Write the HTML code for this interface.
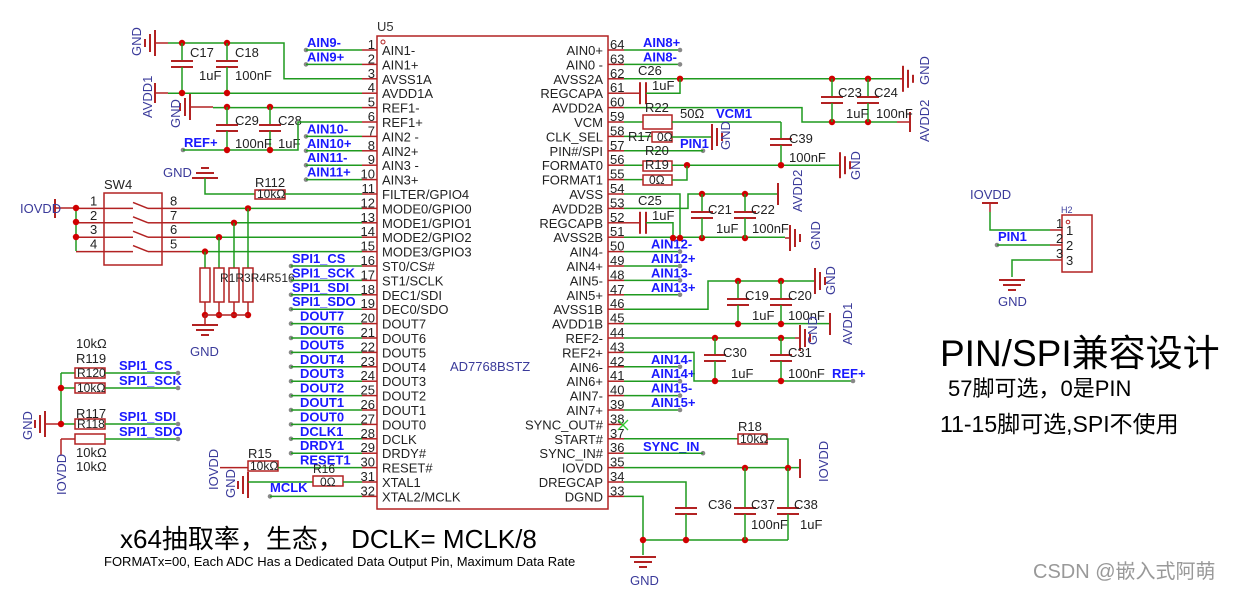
<!DOCTYPE html>
<html><head><meta charset="utf-8">
<style>
html,body{margin:0;padding:0;background:#fff;width:1250px;height:591px;overflow:hidden}
svg{display:block}
text{font-family:"Liberation Sans","Noto Sans CJK SC",sans-serif}
</style></head><body>
<svg id="s" width="1250" height="591" viewBox="0 0 1250 591" xmlns="http://www.w3.org/2000/svg">
<g id="g"></g>
<text x="940" y="366" font-size="37" fill="#000">PIN/SPI兼容设计</text>
<text x="948" y="396" font-size="22" fill="#000">57脚可选，0是PIN</text>
<text x="940" y="432" font-size="23" fill="#000">11-15脚可选,SPI不使用</text>
<text x="120" y="548" font-size="26" fill="#000">x64抽取率，生态，  DCLK= MCLK/8</text>
<text x="104" y="566" font-size="13" fill="#000">FORMATx=00, Each ADC Has a Dedicated Data Output Pin, Maximum Data Rate</text>
<text x="1033" y="578" font-size="20" fill="#999">CSDN @嵌入式阿萌</text>
</svg>
<script>
var G=document.getElementById('g'),NS='http://www.w3.org/2000/svg';
var GR='#1f9a1f',RD='#b22222',BL='#1a1aff',DB='#3a3a9a';
function el(t,a,txt){var e=document.createElementNS(NS,t);for(var k in a)e.setAttribute(k,a[k]);if(txt!=null)e.textContent=txt;G.appendChild(e);return e;}
function L(x1,y1,x2,y2,c,w){el('line',{x1:x1,y1:y1,x2:x2,y2:y2,stroke:c||GR,'stroke-width':w||1.5});}
function P(pts,c){el('polyline',{points:pts,fill:'none',stroke:c||GR,'stroke-width':1.5});}
function T(x,y,s,o){o=o||{};var a={x:x,y:y,'font-size':o.fs||13,fill:o.c||'#222'};if(o.a)a['text-anchor']=o.a;if(o.r)a.transform='rotate(-90 '+x+' '+y+')';if(o.b)a['font-weight']='bold';el('text',a,s);}
function D(x,y){el('circle',{cx:x,cy:y,r:3.2,fill:'#d00000'});}
function GD(x,y){el('circle',{cx:x,cy:y,r:2.3,fill:'#888'});}
function R(x,y,w,h){el('rect',{x:x,y:y,width:w,height:h,fill:'none',stroke:RD,'stroke-width':1.5});}
function CapV(x,y){L(x-11,y,x+11,y,RD,2);L(x-11,y+6,x+11,y+6,RD,2);}
function CapH(x,y){L(x,y-11,x,y+11,RD,2);L(x+6,y-11,x+6,y+11,RD,2);}
function GndL(x,y){L(x,y-13,x,y+13,RD,2);L(x-5,y-9,x-5,y+9,RD,2);L(x-10,y-4,x-10,y+4,RD,2);}
function GndR(x,y){L(x,y-13,x,y+13,RD,2);L(x+5,y-9,x+5,y+9,RD,2);L(x+10,y-4,x+10,y+4,RD,2);}
function GndD(x,y){L(x-13,y,x+13,y,RD,2);L(x-9,y+5,x+9,y+5,RD,2);L(x-4,y+10,x+4,y+10,RD,2);}
function GndU(x,y){L(x-13,y,x+13,y,RD,2);L(x-9,y-5,x+9,y-5,RD,2);L(x-4,y-10,x+4,y-10,RD,2);}
function yl(n){return 50+(n-1)*14.4;} function yr(n){return 50+(64-n)*14.4;}

el('rect',{x:377,y:36,width:231,height:473,fill:'none',stroke:RD,'stroke-width':1.5});
T(377,31,'U5',{c:'#333',fs:13});
el('circle',{cx:383,cy:42,r:2,fill:'none',stroke:RD});
var ln=['AIN1-','AIN1+','AVSS1A','AVDD1A','REF1-','REF1+','AIN2 -','AIN2+','AIN3 -','AIN3+','FILTER/GPIO4','MODE0/GPIO0','MODE1/GPIO1','MODE2/GPIO2','MODE3/GPIO3','ST0/CS#','ST1/SCLK','DEC1/SDI','DEC0/SDO','DOUT7','DOUT6','DOUT5','DOUT4','DOUT3','DOUT2','DOUT1','DOUT0','DCLK','DRDY#','RESET#','XTAL1','XTAL2/MCLK'];
for(var i=0;i<32;i++){var y=yl(i+1);T(382,y+5,ln[i]);T(375,y-1,''+(i+1),{a:'end'});L(362,y,377,y,RD,1.5);}
var rn=['AIN0+','AIN0 -','AVSS2A','REGCAPA','AVDD2A','VCM','CLK_SEL','PIN#/SPI','FORMAT0','FORMAT1','AVSS','AVDD2B','REGCAPB','AVSS2B','AIN4-','AIN4+','AIN5-','AIN5+','AVSS1B','AVDD1B','REF2-','REF2+','AIN6-','AIN6+','AIN7-','AIN7+','SYNC_OUT#','START#','SYNC_IN#','IOVDD','DREGCAP','DGND'];
for(var i=0;i<32;i++){var n=64-i,y=yr(n);T(603,y+5,rn[i],{a:'end'});T(610,y-1,''+n);L(608,y,624,y,RD,1.5);}
T(450,371,'AD7768BSTZ',{c:DB});

GndL(155,43);L(155,43,168,43,RD);P('168,43 284,43 284,'+yl(3)+' 362,'+yl(3));D(182,43);D(227,43);
T(141,56,'GND',{r:1,c:DB});
L(182,43,182,61,GR);CapV(182,61);L(182,67,182,93,GR);
L(227,43,227,61,GR);CapV(227,61);L(227,67,227,93,GR);
T(190,57,'C17');T(235,57,'C18');T(199,80,'1uF');T(235,80,'100nF');
L(155,83,155,103,RD,2);L(155,93,168,93,RD);L(168,yl(4),362,yl(4));D(182,93);D(227,93);
T(152,118,'AVDD1',{r:1,c:DB});
GndL(190,107);L(190,107,213,107,RD);L(213,yl(5),362,yl(5));D(227,107);D(270,107);
T(180,128,'GND',{r:1,c:DB});
L(227,107,227,125,GR);CapV(227,125);L(227,131,227,150,GR);
L(270,107,270,125,GR);CapV(270,125);L(270,131,270,150,GR);
T(235,125,'C29');T(278,125,'C28');T(235,148,'100nF');T(278,148,'1uF');
GD(183,150);P('183,150 298,150 298,'+yl(6)+' 362,'+yl(6));D(227,150);D(270,150);
T(184,147,'REF+',{c:BL,b:1});
var la=[[1,'AIN9-'],[2,'AIN9+'],[7,'AIN10-'],[8,'AIN10+'],[9,'AIN11-'],[10,'AIN11+']];
la.forEach(function(a){var y=yl(a[0]);GD(306,y);L(306,y,362,y);T(307,y-3,a[1],{c:BL,b:1});});
GndU(205,178);T(163,177,'GND',{c:DB});P('205,178 205,'+yl(11)+' 255,'+yl(11));R(255,190,30,9);L(285,yl(11),362,yl(11));T(255,187,'R112');T(257,198,'10kΩ',{fs:12});
R(104,193,58,72);T(104,189,'SW4');
L(55,199,55,218,RD,2);L(55,208,76,208,RD);T(20,213,'IOVDD',{c:DB});
var sy=[yl(12),yl(13),yl(14),yl(15)];
[1,2,3,4].forEach(function(k,i){var y=sy[i];L(76,y,104,y,RD);T(90,y-3,''+k);L(104,y,133,y,RD);L(133,y-6,148,y,RD);L(148,y,162,y,RD);L(162,y,190,y,RD);T(170,y-3,''+(9-k));L(190,y,362,y);});
L(76,208,76,251,GR);D(76,208);D(76,222);D(76,237);
var rx=[248,234,219,205];
rx.forEach(function(x,i){D(x,sy[i]);L(x,sy[i],x,268);R(x-5,268,10,34);L(x,302,x,315,RD);D(x,315);});
L(205,315,248,315,RD);L(205,315,205,325,RD);GndD(205,325);T(190,356,'GND',{c:DB});
T(220,282,'R1R3R4R516',{fs:12});
var sp=[[16,'SPI1_CS'],[17,'SPI1_SCK'],[18,'SPI1_SDI'],[19,'SPI1_SDO'],[20,'DOUT7'],[21,'DOUT6'],[22,'DOUT5'],[23,'DOUT4'],[24,'DOUT3'],[25,'DOUT2'],[26,'DOUT1'],[27,'DOUT0'],[28,'DCLK1'],[29,'DRDY1'],[30,'RESET1']];
sp.forEach(function(a){var y=yl(a[0]);if(a[0]<30){GD(291,y);L(291,y,362,y);}T(a[0]<20?292:300,y-3,a[1],{c:BL,b:1});});
L(220,yl(30),248,yl(30),RD);R(248,461,30,10);L(278,yl(30),362,yl(30));T(248,458,'R15');T(250,470,'10kΩ',{fs:12});
T(218,490,'IOVDD',{r:1,c:DB});T(235,498,'GND',{r:1,c:DB});
GndL(248,485);L(248,yl(31),313,yl(31));R(313,476,30,10);L(343,yl(31),362,yl(31));T(313,473,'R16',{fs:12});T(320,486,'0Ω',{fs:12});
GD(270,yl(32));L(270,yl(32),362,yl(32));T(270,492,'MCLK',{c:BL,b:1});
T(76,348,'10kΩ');T(76,363,'R119');T(76,418,'R117');T(76,457,'10kΩ');T(76,471,'10kΩ');
GndL(45,424);L(45,424,61,424,RD);L(61,373,61,424);L(61,373,75,373);L(61,388,75,388);L(61,424,75,424);D(61,388);D(61,424);
T(32,440,'GND',{r:1,c:DB});
R(75,368,30,10);R(75,383,30,10);R(75,419,30,10);R(75,434,30,10);
T(77,377,'R120',{fs:12});T(77,392,'10kΩ',{fs:12});T(77,428,'R118',{fs:12});
L(61,439,75,439,RD);L(61,439,61,455,RD);T(66,495,'IOVDD',{r:1,c:DB});
[[373,'SPI1_CS'],[388,'SPI1_SCK'],[424,'SPI1_SDI'],[439,'SPI1_SDO']].forEach(function(a){L(105,a[0],178,a[0]);GD(178,a[0]);T(119,a[0]-3,a[1],{c:BL,b:1});});

[[64,'AIN8+'],[63,'AIN8-'],[50,'AIN12-'],[49,'AIN12+'],[48,'AIN13-'],[47,'AIN13+'],[42,'AIN14-'],[41,'AIN14+'],[40,'AIN15-'],[39,'AIN15+']].forEach(function(a){var y=yr(a[0]);L(624,y,680,y);GD(680,y);T(a[0]>60?643:651,y-3,a[1],{c:BL,b:1});});
var y62=yr(62);L(624,y62,900,y62);D(680,y62);D(832,y62);D(868,y62);L(900,y62,903,y62,RD);GndR(903,y62);T(929,85,'GND',{r:1,c:DB});
T(638,75,'C26');CapH(640,yr(61));L(624,yr(61),640,yr(61),RD);P('646,'+yr(61)+' 680,'+yr(61)+' 680,'+y62);T(652,90,'1uF');
P('624,'+yr(60)+' 802,'+yr(60)+' 802,'+yr(59)+' 897,'+yr(59));L(897,yr(59),910,yr(59),RD);L(910,112,910,132,RD,2);T(929,142,'AVDD2',{r:1,c:DB});
D(832,yr(59));D(868,yr(59));
L(832,y62,832,97,GR);CapV(832,97);L(832,103,832,122,GR);L(868,y62,868,97,GR);CapV(868,97);L(868,103,868,122,GR);
T(838,97,'C23');T(874,97,'C24');T(846,118,'1uF');T(876,118,'100nF');
L(624,yr(59),643,yr(59));R(643,115,29,14);L(672,yr(59),781,yr(59));T(645,112,'R22');T(680,118,'50Ω');T(716,118,'VCM1',{c:BL,b:1});
L(781,122,781,139);CapV(781,139);L(781,145,781,166);T(789,143,'C39');T(789,162,'100nF');
L(624,yr(58),652,yr(58));R(652,132,20,10);L(672,137,712,137);GndR(712,137);T(730,150,'GND',{r:1,c:DB});T(628,141,'R17',{fs:13});T(657,141,'0Ω',{fs:12});
GD(703,yr(57));L(624,yr(57),703,yr(57));T(680,148,'PIN1',{c:BL,b:1});
T(645,155,'R20');
L(624,yr(56),643,yr(56));R(643,161,29,10);L(672,yr(56),840,yr(56));D(687,yr(56));D(781,yr(56));GndR(840,yr(56));T(860,180,'GND',{r:1,c:DB});T(645,169,'R19',{fs:13});
L(624,yr(55),643,yr(55));R(643,175,29,10);P('672,180 687,180 687,166');T(649,184,'0Ω',{fs:12});
P('624,'+yr(54)+' 680,'+yr(54)+' 680,'+yr(51));
P('624,'+yr(53)+' 688,'+yr(53)+' 688,'+yr(54)+' 778,'+yr(54));L(778,183,778,205,RD,2);T(802,212,'AVDD2',{r:1,c:DB});
D(702,194);D(745,194);
L(624,yr(52),640,yr(52),RD);CapH(640,yr(52));P('646,'+yr(52)+' 673,'+yr(52)+' 673,'+yr(51));T(638,205,'C25');T(652,220,'1uF');
L(624,yr(51),785,yr(51));D(673,238);D(680,238);D(702,238);D(745,238);GndR(790,238);L(785,238,790,238,RD);T(820,250,'GND',{r:1,c:DB});
L(702,194,702,212);CapV(702,212);L(702,218,702,238);L(745,194,745,212);CapV(745,212);L(745,218,745,238);
T(708,214,'C21');T(751,214,'C22');T(716,233,'1uF');T(752,233,'100nF');
P('624,'+yr(46)+' 708,'+yr(46)+' 708,281 815,281');D(738,281);D(781,281);GndR(815,281);T(835,295,'GND',{r:1,c:DB});
L(738,281,738,299);CapV(738,299);L(738,305,738,324);L(781,281,781,299);CapV(781,299);L(781,305,781,324);
T(745,300,'C19');T(788,300,'C20');T(752,320,'1uF');T(788,320,'100nF');
L(624,yr(45),830,yr(45));L(830,313,830,335,RD,2);D(738,324);D(781,324);T(852,345,'AVDD1',{r:1,c:DB});
L(624,yr(44),795,yr(44));D(715,338);D(781,338);GndR(800,338);L(795,338,800,338,RD);T(817,345,'GND',{r:1,c:DB});
L(715,338,715,355);CapV(715,355);L(715,361,715,381);L(781,338,781,355);CapV(781,355);L(781,361,781,381);
T(723,357,'C30');T(788,357,'C31');T(731,378,'1uF');T(788,378,'100nF');
P('624,'+yr(43)+' 694,'+yr(43)+' 694,381 853,381');D(715,381);D(781,381);GD(853,381);T(832,378,'REF+',{c:BL,b:1});
L(618,420,628,430,'#3c3',1.3);L(618,430,628,420,'#3c3',1.3);
L(624,yr(37),738,yr(37));R(738,434,29,10);P('767,439 788,439 788,'+yr(35));T(738,431,'R18');T(740,443,'10kΩ',{fs:12});
GD(703,yr(36));L(624,yr(36),703,yr(36));T(643,451,'SYNC_IN',{c:BL,b:1});
L(624,yr(35),800,yr(35));L(800,459,800,478,RD,2);D(745,468);D(788,468);T(828,482,'IOVDD',{r:1,c:DB});
P('624,'+yr(34)+' 686,'+yr(34)+' 686,508');CapV(686,508);L(686,514,686,540);
P('624,'+yr(33)+' 643,'+yr(33)+' 643,555');L(643,540,788,540);D(643,540);D(686,540);D(745,540);
L(745,468,745,508);CapV(745,508);L(745,514,745,540);L(788,468,788,508);CapV(788,508);L(788,514,788,540);
GndD(643,557);T(630,585,'GND',{c:DB});
T(708,509,'C36');T(751,509,'C37');T(794,509,'C38');T(751,529,'100nF');T(800,529,'1uF');
T(970,199,'IOVDD',{c:DB});L(982,203,998,203,RD,2);L(990,203,990,212,RD);P('990,212 990,230 1050,230');L(1050,230,1062,230,RD);
R(1062,215,30,57);T(1061,213,'H2',{fs:9,c:DB});el('circle',{cx:1068,cy:222,r:1.8,fill:'none',stroke:RD});
GD(997,245);L(997,245,1050,245);L(1050,245,1062,245,RD);T(998,241,'PIN1',{c:BL,b:1});
P('1050,260 1012,260 1012,277');L(1050,260,1062,260,RD);GndD(1012,280);T(998,306,'GND',{c:DB});
T(1056,228,'1');T(1056,243,'2');T(1056,258,'3');T(1066,235,'1');T(1066,250,'2');T(1066,265,'3');
</script>
</body></html>
